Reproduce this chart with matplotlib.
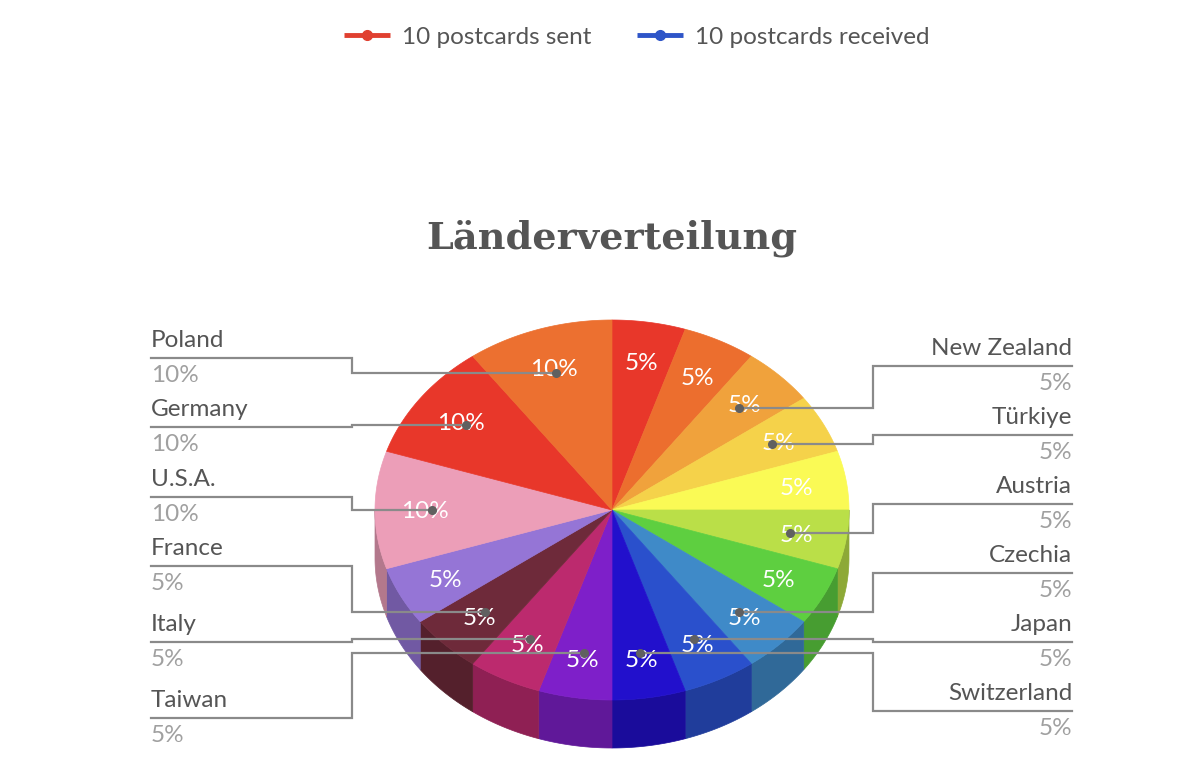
import numpy as np
import matplotlib
matplotlib.use("Agg")
import matplotlib.pyplot as plt
from matplotlib.patches import Polygon
from matplotlib.colors import to_rgb

# ---------------- data ----------------
countries = ["", "", "New Zealand", "Türkiye", "", "Austria", "", "Czechia",
             "Japan", "Switzerland", "Taiwan", "Italy", "France", "",
             "U.S.A.", "Germany", "Poland"]
shares = [5, 5, 5, 5, 5, 5, 5, 5, 5, 5, 5, 5, 5, 5, 10, 10, 10]
colors = ["#E8372A", "#EC6E2E", "#F0A23C", "#F5D24A", "#FAFA55", "#BADF48",
          "#5ECF40", "#3F8AC8", "#2A50CC", "#2210CC", "#7E1FC9", "#BC2A6E",
          "#6E2A3A", "#9575D6", "#EC9EB8", "#E8372A", "#EC7030"]
legend_labels = ["10 postcards sent", "10 postcards received"]
legend_colors = ["#E04030", "#2E55C8"]
title = "Länderverteilung"

left_labels = ["Poland", "Germany", "U.S.A.", "France", "Italy", "Taiwan"]
right_labels = ["New Zealand", "Türkiye", "Austria", "Czechia", "Japan", "Switzerland"]

# ---------------- layout ----------------
W, H = 1200, 781
fig = plt.figure(figsize=(W / 100, H / 100), dpi=100)
ax = fig.add_axes([0, 0, 1, 1])
ax.set_xlim(0, W)
ax.set_ylim(H, 0)
ax.axis("off")

cx, cy, rx, ry, depth = 612, 510, 237, 190, 48
FONT = "Lato"
FS = 17.5


def pt(theta_deg, f=1.0):
    t = np.radians(theta_deg)
    return cx + f * rx * np.sin(t), cy - f * ry * np.cos(t)


def darker(c, k=0.76):
    r, g, b = to_rgb(c)
    return (r * k, g * k, b * k)


vals = np.array(shares, dtype=float)
ends = np.cumsum(vals) / vals.sum() * 360
starts = ends - vals / vals.sum() * 360
mids = (starts + ends) / 2

# side walls (front half: 90..270 deg)
for s, e, c in zip(starts, ends, colors):
    a, b = max(s, 90), min(e, 270)
    if b <= a:
        continue
    th = np.linspace(a, b, 40)
    xs, ys = pt(th)
    poly = np.column_stack([np.r_[xs, xs[::-1]], np.r_[ys, ys[::-1] + depth]])
    ax.add_patch(Polygon(poly, closed=True, facecolor=darker(c), edgecolor=darker(c), lw=0.5, zorder=2))

# top faces
for s, e, c in zip(starts, ends, colors):
    th = np.linspace(s, e, 60)
    xs, ys = pt(th)
    poly = np.column_stack([np.r_[cx, xs], np.r_[cy, ys]])
    ax.add_patch(Polygon(poly, closed=True, facecolor=c, edgecolor=c, lw=0.5, zorder=3))

# percentage labels in slices
for m, v in zip(mids, vals):
    x, y = pt(m, 0.79)
    ax.text(x, y + 2, f"{int(v)}%", color="white", fontsize=FS, family=FONT,
            ha="center", va="center", zorder=5)

# leader labels
line_c = "#8A8A8A"
dot_c = "#606060"
name_c = "#555555"
pct_c = "#A0A0A0"

left_y = [358, 427, 497, 566, 642, 718]
right_y = [366, 435, 504, 573, 642, 711]
idx = {n: i for i, n in enumerate(countries)}


def draw_leader(name, ly, side):
    i = idx[name]
    dx, dy = pt(mids[i], 0.76)
    if side == "left":
        x0, xk, ha = 151, 352, "left"
    else:
        x0, xk, ha = 1072, 873, "right"
    ax.plot([x0, xk, xk, dx], [ly, ly, dy, dy], color=line_c, lw=1.6, zorder=6,
            solid_joinstyle="miter")
    ax.text(x0, ly - 7, name, ha=ha, va="bottom", fontsize=FS, color=name_c, family=FONT)
    ax.text(x0, ly + 7, f"{int(vals[i])}%", ha=ha, va="top", fontsize=FS, color=pct_c, family=FONT)
    ax.plot([dx], [dy], "o", color=dot_c, ms=5.5, zorder=7)


for n, y in zip(left_labels, left_y):
    draw_leader(n, y, "left")
for n, y in zip(right_labels, right_y):
    draw_leader(n, y, "right")

# title
ax.text(612, 238, title, ha="center", va="center", fontsize=27.5, fontweight="bold",
        color="#555555", family="DejaVu Serif")

# legend
lx = [344, 637]
for x, lab, c in zip(lx, legend_labels, legend_colors):
    ax.plot([x, x + 46], [35, 35], color=c, lw=3.5, solid_capstyle="butt")
    ax.plot([x + 23], [35], "o", color=c, ms=7)
    ax.text(x + 58, 37, lab, ha="left", va="center", fontsize=FS, color=name_c, family=FONT)

fig.savefig("out.png", dpi=100, facecolor="white")
